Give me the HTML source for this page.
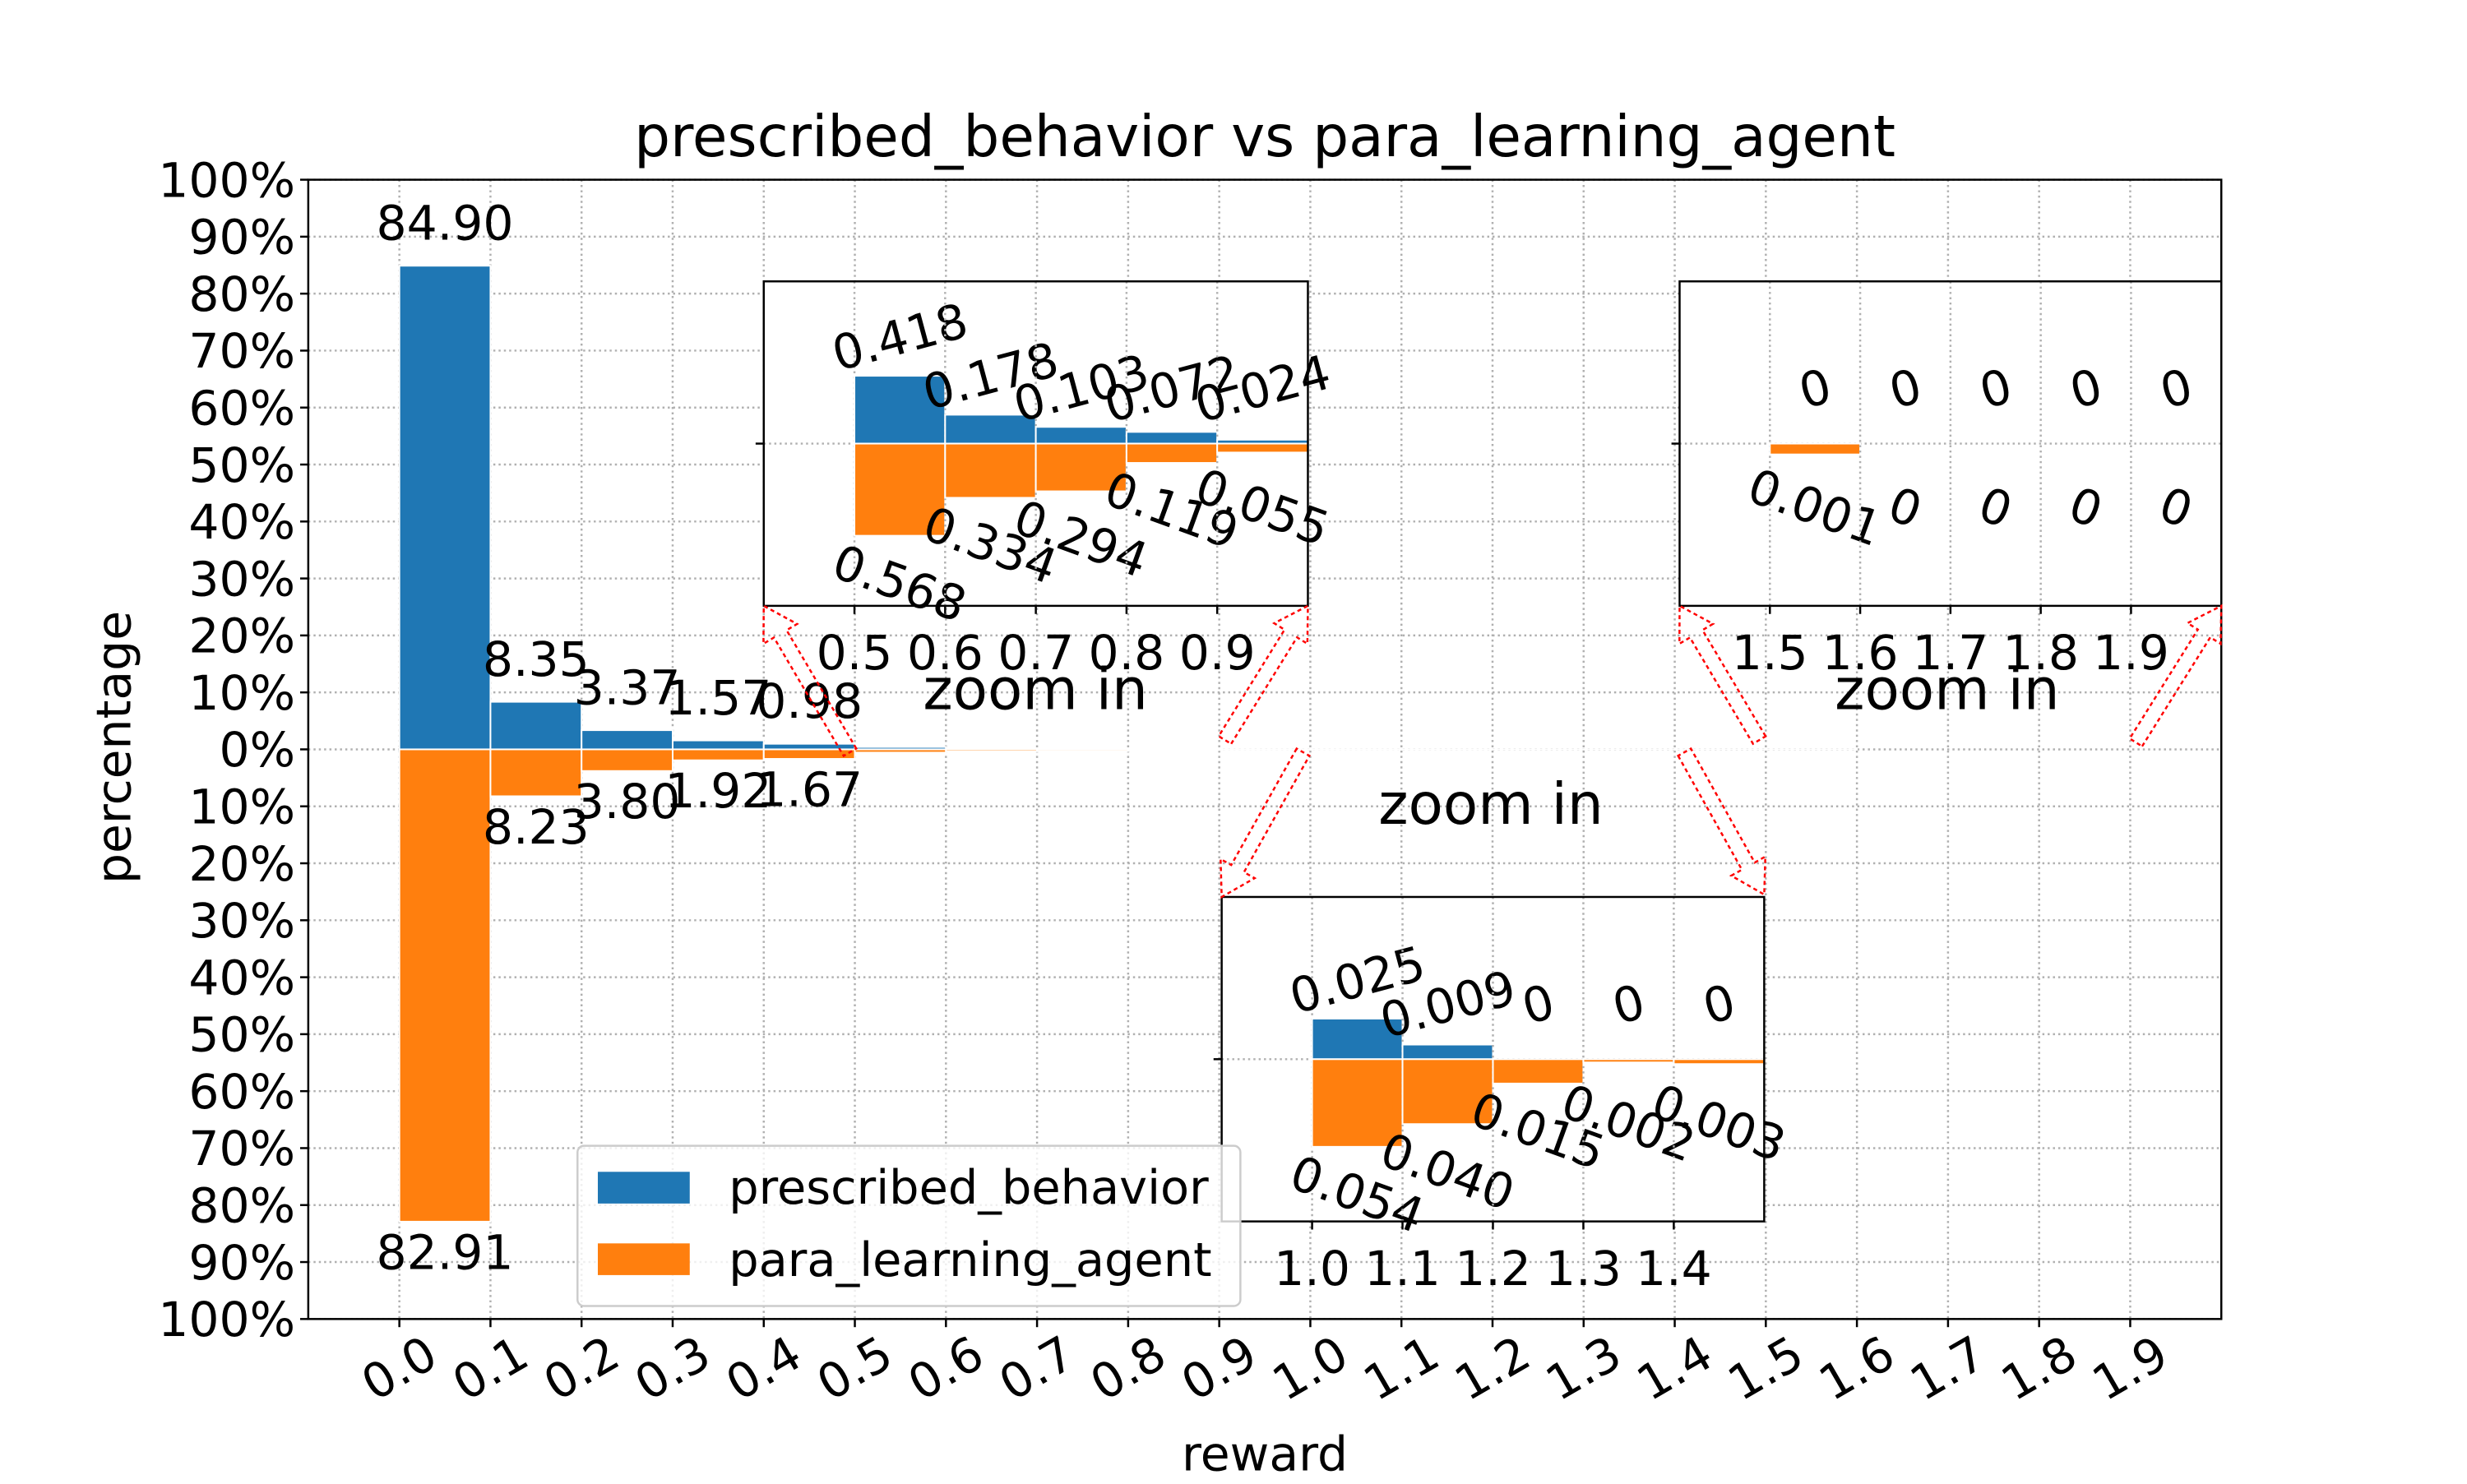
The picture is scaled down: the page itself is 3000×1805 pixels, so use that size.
<!DOCTYPE html>
<html><head><meta charset="utf-8"><style>
html,body{margin:0;padding:0;background:#fff;}
svg text{font-family:"DejaVu Sans","Liberation Sans",sans-serif;fill:#000;}
</style></head><body>
<svg id="chart" width="3000" height="1800" xmlns="http://www.w3.org/2000/svg">
<rect width="3000" height="1800" fill="#fff"/>
<g id="root" transform="scale(0.9891)"></g>
</svg>
<script>
const categories = ["0.0","0.1","0.2","0.3","0.4","0.5","0.6","0.7","0.8","0.9","1.0","1.1","1.2","1.3","1.4","1.5","1.6","1.7","1.8","1.9"];
const blueValues = [84.90,8.35,3.37,1.57,0.98,0.418,0.178,0.103,0.072,0.024,0.025,0.009,0,0,0,0,0,0,0,0];
const orangeValues = [82.91,8.23,3.80,1.92,1.67,0.568,0.334,0.294,0.119,0.055,0.054,0.040,0.015,0.002,0.003,0.001,0,0,0,0];
const yTickLabels = ["100%","90%","80%","70%","60%","50%","40%","30%","20%","10%","0%","10%","20%","30%","40%","50%","60%","70%","80%","90%","100%"];
const blueLabels = ["84.90","8.35","3.37","1.57","0.98","0.418","0.178","0.103","0.072","0.024","0.025","0.009","0","0","0","0","0","0","0","0"];
const orangeLabels = ["82.91","8.23","3.80","1.92","1.67","0.568","0.334","0.294","0.119","0.055","0.054","0.040","0.015","0.002","0.003","0.001","0","0","0","0"];

const NS="http://www.w3.org/2000/svg";
const svg=document.getElementById('root');
function mk(tag,attrs,parent){const e=document.createElementNS(NS,tag);for(const k in attrs)e.setAttribute(k,attrs[k]);(parent||svg).appendChild(e);return e;}
function txt(s,attrs,parent){const e=mk('text',attrs,parent);e.textContent=s;return e;}
const BLUE="#1f77b4",ORANGE="#ff7f0e";
const FS=59;

const M={L:379,R:2731,T:221,B:1622};
const xs=v=>M.L+(v+0.1)/2.1*(M.R-M.L);
const ys=v=>M.T+(100-v)/200*(M.B-M.T);

for(let i=0;i<categories.length;i++){const x=xs(i*0.1);
 const g=mk('line',{x1:x,x2:x,y1:M.T,y2:M.B,stroke:'#b0b0b0','stroke-width':2.5,'stroke-dasharray':'2.5 4'});
 
 }
for(let i=0;i<yTickLabels.length;i++){const y=ys(100-i*10);
 const g=mk('line',{x1:M.L,x2:M.R,y1:y,y2:y,stroke:'#b0b0b0','stroke-width':2.5,'stroke-dasharray':'2.5 4'});
 
 }

for(let i=0;i<categories.length;i++){
 const x0=xs(i*0.1),x1=xs(i*0.1+0.1);
 const b=mk('rect',{x:x0,y:ys(blueValues[i]),width:x1-x0,height:ys(0)-ys(blueValues[i]),fill:BLUE,stroke:'#fff','stroke-width':2});
 
 
 const o=mk('rect',{x:x0,y:ys(0),width:x1-x0,height:ys(0)-ys(orangeValues[i]),fill:ORANGE,stroke:'#fff','stroke-width':2});
 
 
 if(i<5){
  const t1=txt(blueLabels[i],{x:(x0+x1)/2,y:ys(blueValues[i])-32,'font-size':FS,'text-anchor':'middle'});
  
  
  const t2=txt(orangeLabels[i],{x:(x0+x1)/2,y:ys(0)+(ys(0)-ys(orangeValues[i]))+58,'font-size':FS,'text-anchor':'middle'});
  
  
 }
}
const fr=mk('rect',{x:M.L,y:M.T,width:M.R-M.L,height:M.B-M.T,fill:'none',stroke:'#000','stroke-width':2.5});


for(let i=0;i<yTickLabels.length;i++){const y=ys(100-i*10);
 mk('line',{x1:M.L-10,x2:M.L,y1:y,y2:y,stroke:'#000','stroke-width':2.5});
 const t=txt(yTickLabels[i],{x:M.L-16,y:y+21,'font-size':FS,'text-anchor':'end'});
 
 }
for(let i=0;i<categories.length;i++){const x=xs(i*0.1);
 mk('line',{x1:x,x2:x,y1:M.B,y2:M.B+10,stroke:'#000','stroke-width':2.5});
 const t=txt(categories[i],{x:x,y:1703,'font-size':FS,'text-anchor':'middle',transform:`rotate(-30 ${x} 1683)`});
 
 }

const title=txt('prescribed_behavior vs para_learning_agent',{x:1555,y:192,'font-size':70,'text-anchor':'middle'});


const yl=txt('percentage',{x:139,y:940,'font-size':59,'text-anchor':'middle',transform:'rotate(-90 139 919)'});


const xl=txt('reward',{x:1555,y:1808,'font-size':59,'text-anchor':'middle'});



function inset(box,startIdx,xmin,ylim,name){
 const g=mk('g',{});
 
 
 const ix=v=>box.L+(v-xmin)/0.6*(box.R-box.L);
 const cy=(box.T+box.B)/2;
 const iy=v=>cy-v/ylim*(box.B-box.T)/2;
 mk('rect',{x:box.L,y:box.T,width:box.R-box.L,height:box.B-box.T,fill:'#fff'},g);
 mk('line',{x1:box.L,x2:box.R,y1:cy,y2:cy,stroke:'#b0b0b0','stroke-width':2.5,'stroke-dasharray':'2.5 4'},g);
 for(let k=0;k<5;k++){const i=startIdx+k;const v=i*0.1;const x0=ix(v),x1=ix(v+0.1);
  mk('line',{x1:x0,x2:x0,y1:box.T,y2:box.B,stroke:'#b0b0b0','stroke-width':2.5,'stroke-dasharray':'2.5 4'},g);
  const b=mk('rect',{x:x0,y:iy(blueValues[i]),width:x1-x0,height:cy-iy(blueValues[i]),fill:BLUE,stroke:'#fff','stroke-width':2},g);
  
  
  const oh=Math.max(0,iy(-orangeValues[i])-cy);
  const o=mk('rect',{x:x0,y:cy,width:x1-x0,height:oh,fill:ORANGE,stroke:'#fff','stroke-width':2},g);
  
  
  const xc=(x0+x1)/2;
  const ty=Math.min(iy(blueValues[i]),cy-20)-48;
  const t1=txt(blueLabels[i],{x:xc,y:ty+21,'font-size':FS,'text-anchor':'middle',transform:`rotate(-15 ${xc} ${ty})`},g);
  
  
  const by=Math.max(iy(-orangeValues[i]),cy+20)+58;
  const t2=txt(orangeLabels[i],{x:xc,y:by+21,'font-size':FS,'text-anchor':'middle',transform:`rotate(20 ${xc} ${by})`},g);
  
  
  const tk=txt(categories[i],{x:x0,y:box.B+78,'font-size':FS,'text-anchor':'middle'},g);
  
  
  mk('line',{x1:x0,x2:x0,y1:box.B,y2:box.B+10,stroke:'#000','stroke-width':2.5},g);
 }
 mk('line',{x1:box.L-10,x2:box.L,y1:cy,y2:cy,stroke:'#000','stroke-width':2.5},g);
 mk('rect',{x:box.L,y:box.T,width:box.R-box.L,height:box.B-box.T,fill:'none',stroke:'#000','stroke-width':2.5},g);
}
inset({L:939,R:1608,T:346,B:745},5,0.4,1.0,'inset-zoom-0.5');
inset({L:2065,R:2731,T:346,B:745},15,1.4,0.015,'inset-zoom-1.5');
inset({L:1502,R:2169,T:1103,B:1502},10,0.9,0.1,'inset-zoom-1.0');

[[1273,872],[2394,872],[1833,1013]].forEach(p=>{
 const t=txt('zoom in',{x:p[0],y:p[1],'font-size':70,'text-anchor':'middle'});
 
 
});

function arrow(tx,ty,hx,hy){
 const dx=hx-tx,dy=hy-ty,len=Math.hypot(dx,dy),ux=dx/len,uy=dy/len,px=-uy,py=ux;
 const w=9,hw=24,hl=40;
 const bx=hx-ux*hl,by=hy-uy*hl;
 const pts=[[tx+px*w,ty+py*w],[bx+px*w,by+py*w],[bx+px*hw,by+py*hw],[hx,hy],[bx-px*hw,by-py*hw],[bx-px*w,by-py*w],[tx-px*w,ty-py*w]];
 const a=mk('polygon',{points:pts.map(p=>p.join(',')).join(' '),fill:'none',stroke:'#ff0000','stroke-width':2.5,'stroke-dasharray':'5 4'});
 
 
}
arrow(1045,925,939,745);
arrow(1506,910,1608,745);
arrow(2163,910,2065,745);
arrow(2626,913,2731,745);
arrow(1602,925,1502,1103);
arrow(2071,925,2169,1100);

const lg=mk('g',{});


mk('rect',{x:710,y:1409,width:815,height:197,rx:8,fill:'#fff','fill-opacity':0.8,stroke:'#cccccc','stroke-width':2.5},lg);
const p1=mk('rect',{x:735,y:1441,width:113,height:39,fill:BLUE},lg);


const l1=txt('prescribed_behavior',{x:896,y:1480,'font-size':58},lg);


const p2=mk('rect',{x:735,y:1529,width:113,height:39,fill:ORANGE},lg);


const l2=txt('para_learning_agent',{x:896,y:1569,'font-size':58},lg);


</script>
</body></html>
